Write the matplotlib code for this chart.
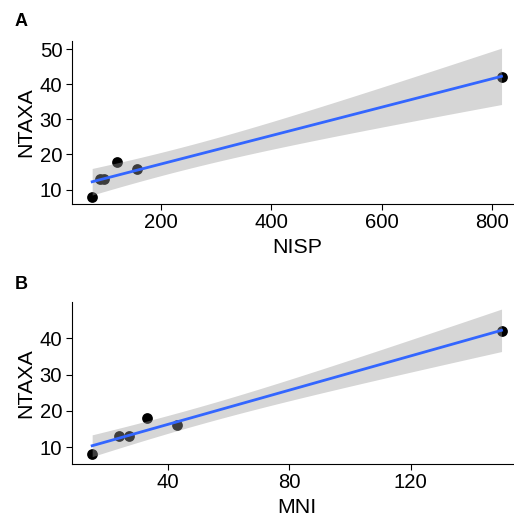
import numpy as np
import matplotlib.pyplot as plt

plt.rcParams['font.family'] = ['Liberation Sans', 'DejaVu Sans']

# Dados
ntaxa = [8, 13, 13, 18, 16, 42]
nisp = [75, 90, 96, 120, 156, 817]
mni = [15, 24, 27, 33, 43, 150]

nisp_ticks = [200, 400, 600, 800]
mni_ticks = [40, 80, 120]
ntaxa_ticks_a = [10, 20, 30, 40, 50]
ntaxa_ticks_b = [10, 20, 30, 40]

t_975 = 2.776  # quantil t (0.975) com 4 graus de liberdade


# Regressão linear com intervalo de confiança de 95% (como geom_smooth(method='lm'))
def ajuste(x, y):
    x = np.asarray(x, dtype=float)
    y = np.asarray(y, dtype=float)
    n = len(x)
    b, a = np.polyfit(x, y, 1)
    resid = y - (a + b * x)
    s = np.sqrt(np.sum(resid ** 2) / (n - 2))
    xs = np.linspace(x.min(), x.max(), 80)
    ys = a + b * xs
    se = s * np.sqrt(1 / n + (xs - x.mean()) ** 2 / np.sum((x - x.mean()) ** 2))
    return xs, ys, ys - t_975 * se, ys + t_975 * se


# Expansão de 5% dos limites, como no ggplot
def expandir(lo, hi):
    d = (hi - lo) * 0.05
    return lo - d, hi + d


W, H = 514, 522
fig = plt.figure(figsize=(W / 100, H / 100), dpi=100)
ax1 = fig.add_axes([71.7 / W, 1 - 204 / H, 450.3 / W, (204 - 40.7) / H])
ax2 = fig.add_axes([71.7 / W, 1 - 464 / H, 450.3 / W, (464 - 301.7) / H])

paineis = [
    (ax1, nisp, 'NISP', nisp_ticks, ntaxa_ticks_a),
    (ax2, mni, 'MNI', mni_ticks, ntaxa_ticks_b),
]

for ax, x, xlabel, xticks, yticks in paineis:
    xs, ys, lo, hi = ajuste(x, ntaxa)
    ax.scatter(x, ntaxa, s=60, color='black', linewidths=0, zorder=2)
    ax.fill_between(xs, lo, hi, color='#999999', alpha=0.4, linewidth=0, zorder=3)
    ax.plot(xs, ys, color='#3366FF', linewidth=2, zorder=4)
    ax.set_xlim(expandir(min(x), max(x)))
    ax.set_ylim(expandir(min(min(ntaxa), lo.min()), max(max(ntaxa), hi.max())))
    ax.set_xticks(xticks)
    ax.set_yticks(yticks)
    ax.spines['top'].set_visible(False)
    ax.spines['right'].set_visible(False)
    ax.spines['left'].set_linewidth(0.8)
    ax.spines['bottom'].set_linewidth(0.8)
    ax.tick_params(labelsize=14.6, length=4, width=0.8, pad=2.8, colors='black')
    ax.set_xlabel(xlabel, fontsize=15.4, labelpad=4)
    ax.set_ylabel('NTAXA', fontsize=15.4, labelpad=2.8)

fig.text(15 / W, 1 - 26 / H, 'A', fontsize=13, fontweight='bold', va='baseline')
fig.text(15 / W, 1 - 289 / H, 'B', fontsize=13, fontweight='bold', va='baseline')

fig.savefig('out.png', dpi=100)
